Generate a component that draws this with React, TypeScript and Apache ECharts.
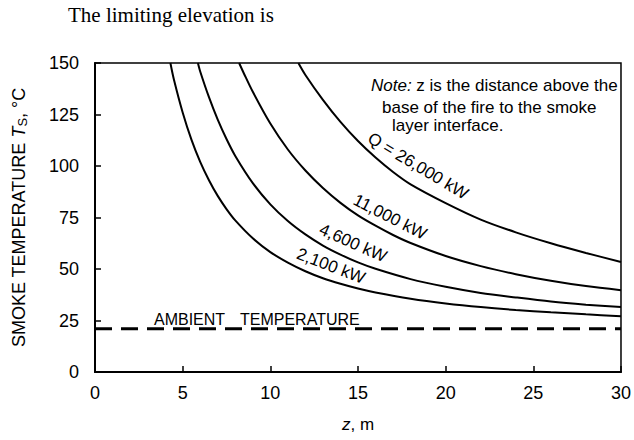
import React, { useEffect, useRef } from "react";
import * as echarts from "echarts";

// ---- data ----
const zTicks = [0, 5, 10, 15, 20, 25, 30]; // m
const tempTicks = [0, 25, 50, 75, 100, 125, 150]; // °C

const ambientZ = [0, 30];
const ambientTemp = 21;

const q2100: [number, number][] = [
  [4.3, 150], [4.5, 142], [5, 126], [5.5, 112.8], [6, 102], [6.5, 93.1], [7, 85.5],
  [7.5, 79.1], [8, 73.6], [9, 64.9], [10, 58.2], [11, 53.1], [12, 48.9], [13, 45.5],
  [14, 42.8], [15, 40.5], [16, 38.6], [18, 35.6], [20, 33.3], [22, 31.5], [24, 30.1],
  [26, 29], [28, 28], [30, 27.1],
];
const q4600: [number, number][] = [
  [5.87, 150], [6, 145.9], [6.5, 133.4], [7, 122.5], [7.5, 113.1], [8, 104.9], [9, 91.7],
  [10, 81.4], [11, 73.3], [12, 66.8], [13, 61.4], [14, 57], [15, 53.2], [16, 50.1],
  [18, 45.1], [20, 41.4], [22, 38.4], [24, 36.2], [26, 34.2], [28, 32.7], [30, 31.5],
];
const q11000: [number, number][] = [
  [8.22, 150], [8.5, 144.8], [9, 136], [10, 120.6], [11, 108], [12, 97.8], [13, 89.3],
  [14, 82.1], [15, 76], [16, 71], [17, 66.5], [18, 62.6], [20, 56.3], [22, 51.4],
  [24, 47.5], [26, 44.3], [28, 41.7], [30, 39.7],
];
const q26000: [number, number][] = [
  [11.6, 150], [12, 144.2], [13, 132.1], [14, 121.4], [15, 112.1], [16, 104.1], [17, 97.1],
  [18, 91.1], [20, 82], [22, 74], [24, 67.8], [26, 62.5], [28, 57.8], [30, 53.4],
];

const curveLabels = ["2,100 kW", "4,600 kW", "11,000 kW", "Q = 26,000 kW"];
const noteLines = [
  "{i|Note:} z is the distance above the",
  "base of the fire to the smoke",
  "layer interface.",
];
const headerText = "The limiting elevation is";
const ambientWords = ["AMBIENT", "TEMPERATURE"];

const SANS = "'Liberation Sans', Arial, Helvetica, sans-serif";
const SERIF = "'Liberation Serif', 'Times New Roman', serif";

export default function App() {
  const ref = useRef<HTMLDivElement>(null);

  useEffect(() => {
    if (!ref.current) return;
    const chart = echarts.init(ref.current, undefined, { renderer: "svg" });

    const curveSeries = [q2100, q4600, q11000, q26000].map((d, i) => ({
      type: "line",
      name: curveLabels[i],
      data: d,
      showSymbol: false,
      symbol: "none",
      smooth: 0.3,
      lineStyle: { color: "#000", width: 2 },
      z: 3,
    }));

    const txt = (text: string, x: number, y: number, opts: any = {}) => ({
      type: "text",
      x,
      y,
      rotation: opts.rotation || 0,
      z: 10,
      style: {
        text,
        fill: "#000",
        fontSize: opts.size || 17,
        fontFamily: opts.family || SANS,
        align: opts.align || "left",
        verticalAlign: "middle",
        rich: opts.rich,
      },
    });

    const deg = (d: number) => (d * Math.PI) / 180;

    const option: any = {
      animation: false,
      grid: {
        left: 95,
        right: 11,
        top: 63,
        bottom: 68,
        show: true,
        borderColor: "#000",
        borderWidth: 1.5,
      },
      xAxis: {
        type: "value",
        min: zTicks[0],
        max: zTicks[zTicks.length - 1],
        interval: 5,
        axisLine: { show: true, lineStyle: { color: "#000", width: 2 } },
        axisTick: { show: true, inside: true, length: 6, lineStyle: { color: "#000", width: 1.5 } },
        axisLabel: { color: "#000", fontSize: 18, fontFamily: SANS, margin: 12 },
        splitLine: { show: false },
        name: "{i|z}, m",
        nameLocation: "middle",
        nameGap: 44,
        nameTextStyle: {
          color: "#000",
          fontSize: 17,
          fontFamily: SANS,
          rich: { i: { fontStyle: "italic", fontSize: 17, fontFamily: SANS, color: "#000" } },
        },
      },
      yAxis: {
        type: "value",
        min: tempTicks[0],
        max: tempTicks[tempTicks.length - 1],
        interval: 25,
        axisLine: { show: true, lineStyle: { color: "#000", width: 2 } },
        axisTick: { show: true, inside: true, length: 6, lineStyle: { color: "#000", width: 1.5 } },
        axisLabel: { color: "#000", fontSize: 18, fontFamily: SANS, margin: 16 },
        splitLine: { show: false },
        name: "SMOKE TEMPERATURE {i|T}{sub|S}, °C",
        nameLocation: "middle",
        nameGap: 66,
        nameTextStyle: {
          color: "#000",
          fontSize: 18,
          fontFamily: SANS,
          lineHeight: 21,
          rich: {
            i: { fontStyle: "italic", fontSize: 18, fontFamily: SANS, color: "#000", lineHeight: 21 },
            sub: { fontSize: 13, fontFamily: SANS, color: "#000", verticalAlign: "bottom", lineHeight: 17 },
          },
        },
      },
      series: [
        ...curveSeries,
        {
          type: "line",
          name: "ambient",
          data: ambientZ.map((z) => [z, ambientTemp]),
          showSymbol: false,
          symbol: "none",
          lineStyle: { color: "#000", width: 3, type: [17, 9] },
          z: 2,
        },
      ],
      graphic: [
        txt(headerText, 68, 15, { family: SERIF, size: 21 }),
        txt(noteLines[0], 371, 85, {
          rich: { i: { fontStyle: "italic", fontSize: 17, fontFamily: SANS, fill: "#000", color: "#000" } },
        }),
        txt(noteLines[1], 382, 107),
        txt(noteLines[2], 392, 125),
        txt(curveLabels[3], 418, 166, { align: "center", rotation: -deg(31) }),
        txt(curveLabels[2], 390, 217, { align: "center", rotation: -deg(27) }),
        txt(curveLabels[1], 353, 243, { align: "center", rotation: -deg(24) }),
        txt(curveLabels[0], 331, 266, { align: "center", rotation: -deg(21) }),
        txt(ambientWords[0], 154, 319, { size: 16 }),
        txt(ambientWords[1], 240, 319, { size: 16 }),
      ],
    };

    chart.setOption(option);
    return () => chart.dispose();
  }, []);

  return (
    <div
      ref={ref}
      style={{ position: "fixed", left: 0, top: 0, width: 634, height: 440, background: "#fff" }}
    />
  );
}
